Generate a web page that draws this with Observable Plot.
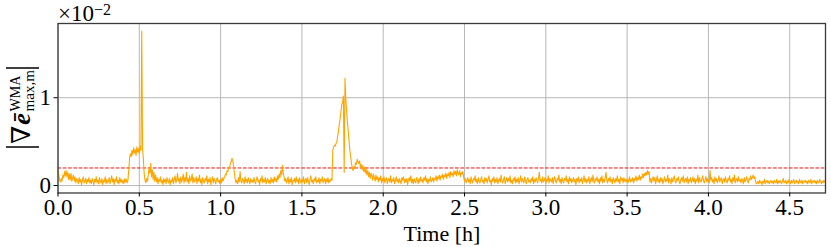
<!DOCTYPE html>
<html><head><meta charset="utf-8">
<script src="https://cdn.jsdelivr.net/npm/d3@7"></script>
<script src="https://cdn.jsdelivr.net/npm/@observablehq/plot@0.6"></script>
<style>
body{margin:0;background:#fff}
#chart svg{display:block}
#chart svg text, #chart svg tspan{font-family:"Liberation Serif","DejaVu Serif",serif !important;}
</style>
</head><body><div id="chart"></div>
<script>
// sample step in hours
const dt = 0.005;
// |grad e_WMA| in units of 1e-2, one row per 0.1 h (20 samples)
const gradWMA = [
  0.17,0.12,0.06,0.04,0.08,0.05,0.12,0.09,0.16,0.11,0.17,0.10,0.15,0.07,0.13,0.06,0.14,0.05,0.09,0.12,
  0.05,0.10,0.03,0.08,0.06,0.02,0.09,0.04,0.07,0.01,0.06,0.10,0.03,0.05,0.08,0.02,0.07,0.04,0.09,0.03,
  0.06,0.02,0.08,0.05,0.01,0.07,0.04,0.10,0.03,0.06,0.02,0.09,0.05,0.03,0.08,0.01,0.06,0.04,0.10,0.02,
  0.07,0.03,0.05,0.09,0.02,0.06,0.11,0.04,0.08,0.01,0.07,0.05,0.10,0.03,0.06,0.02,0.09,0.04,0.07,0.03,
  0.06,0.02,0.08,0.04,0.07,0.03,0.06,0.18,0.30,0.36,0.33,0.40,0.35,0.43,0.37,0.41,0.34,0.44,0.38,0.42,
  0.36,0.45,0.40,1.76,0.42,0.30,0.14,0.06,0.03,0.08,0.05,0.12,0.20,0.14,0.25,0.10,0.18,0.07,0.15,0.05,
  0.12,0.04,0.09,0.02,0.07,0.05,0.10,0.03,0.06,0.01,0.08,0.04,0.07,0.02,0.09,0.05,0.03,0.08,0.01,0.06,
  0.04,0.09,0.02,0.07,0.11,0.03,0.06,0.14,0.05,0.08,0.02,0.10,0.04,0.07,0.13,0.03,0.09,0.05,0.15,0.04,
  0.08,0.02,0.11,0.05,0.07,0.13,0.03,0.09,0.04,0.06,0.10,0.02,0.08,0.05,0.12,0.03,0.07,0.01,0.09,0.05,
  0.03,0.08,0.05,0.11,0.02,0.07,0.04,0.09,0.01,0.06,0.10,0.03,0.08,0.05,0.02,0.07,0.09,0.04,0.06,0.02,
  0.07,0.03,0.09,0.05,0.08,0.10,0.13,0.12,0.17,0.16,0.21,0.20,0.25,0.27,0.31,0.28,0.22,0.14,0.07,0.03,
  0.06,0.02,0.09,0.04,0.16,0.05,0.03,0.08,0.06,0.02,0.10,0.04,0.07,0.03,0.09,0.05,0.02,0.08,0.04,0.06,
  0.03,0.09,0.05,0.02,0.07,0.10,0.04,0.06,0.01,0.08,0.05,0.11,0.03,0.07,0.04,0.09,0.02,0.06,0.08,0.03,
  0.06,0.02,0.09,0.04,0.07,0.03,0.10,0.05,0.08,0.04,0.11,0.07,0.13,0.09,0.17,0.12,0.23,0.15,0.10,0.05,
  0.08,0.03,0.06,0.10,0.02,0.07,0.04,0.09,0.01,0.06,0.05,0.08,0.03,0.10,0.04,0.07,0.02,0.09,0.05,0.03,
  0.07,0.04,0.10,0.02,0.06,0.08,0.03,0.09,0.05,0.01,0.07,0.11,0.04,0.06,0.02,0.08,0.05,0.10,0.03,0.06,
  0.04,0.09,0.02,0.07,0.05,0.10,0.03,0.06,0.08,0.02,0.07,0.04,0.09,0.03,0.06,0.05,0.08,0.06,0.40,0.44,
  0.46,0.45,0.48,0.50,0.56,0.62,0.70,0.76,0.84,0.92,0.95,1.02,0.15,1.22,0.98,0.85,0.72,0.62,0.50,0.40,
  0.33,0.25,0.20,0.17,0.22,0.19,0.26,0.24,0.30,0.27,0.25,0.28,0.21,0.24,0.18,0.23,0.16,0.21,0.14,0.19,
  0.12,0.17,0.10,0.15,0.08,0.14,0.11,0.06,0.13,0.09,0.05,0.12,0.07,0.10,0.04,0.09,0.06,0.11,0.03,0.08,
  0.05,0.10,0.03,0.07,0.09,0.02,0.06,0.08,0.04,0.11,0.03,0.07,0.05,0.09,0.02,0.06,0.10,0.04,0.07,0.03,
  0.08,0.05,0.02,0.09,0.06,0.10,0.03,0.07,0.04,0.08,0.01,0.06,0.09,0.05,0.11,0.03,0.07,0.02,0.08,0.05,
  0.03,0.09,0.06,0.02,0.08,0.04,0.10,0.05,0.07,0.03,0.09,0.06,0.11,0.04,0.08,0.02,0.07,0.05,0.10,0.04,
  0.06,0.09,0.04,0.08,0.07,0.11,0.05,0.10,0.08,0.12,0.06,0.11,0.09,0.13,0.07,0.12,0.10,0.14,0.08,0.13,
  0.11,0.15,0.09,0.16,0.12,0.14,0.10,0.17,0.13,0.16,0.11,0.18,0.14,0.12,0.17,0.10,0.15,0.13,0.16,0.09,
  0.05,0.08,0.03,0.06,0.09,0.04,0.07,0.02,0.10,0.05,0.03,0.08,0.06,0.11,0.04,0.07,0.02,0.09,0.05,0.03,
  0.07,0.10,0.04,0.06,0.02,0.09,0.05,0.08,0.03,0.07,0.11,0.04,0.06,0.01,0.08,0.05,0.10,0.03,0.07,0.04,
  0.09,0.02,0.06,0.08,0.04,0.12,0.05,0.03,0.07,0.10,0.02,0.06,0.09,0.04,0.08,0.05,0.11,0.03,0.06,0.02,
  0.08,0.05,0.10,0.03,0.07,0.04,0.09,0.02,0.06,0.11,0.04,0.08,0.05,0.03,0.10,0.06,0.02,0.07,0.09,0.04,
  0.06,0.03,0.08,0.05,0.10,0.02,0.07,0.04,0.09,0.06,0.03,0.08,0.15,0.05,0.07,0.03,0.10,0.04,0.06,0.09,
  0.02,0.07,0.05,0.11,0.03,0.08,0.06,0.04,0.09,0.02,0.07,0.10,0.05,0.03,0.08,0.06,0.12,0.04,0.07,0.02,
  0.09,0.05,0.03,0.08,0.06,0.11,0.04,0.07,0.02,0.10,0.05,0.08,0.03,0.06,0.09,0.04,0.07,0.01,0.08,0.05,
  0.10,0.03,0.07,0.05,0.09,0.02,0.06,0.11,0.04,0.08,0.03,0.07,0.05,0.10,0.02,0.06,0.09,0.04,0.12,0.05,
  0.03,0.08,0.06,0.10,0.04,0.07,0.02,0.09,0.05,0.11,0.03,0.07,0.04,0.09,0.15,0.06,0.03,0.08,0.05,0.10,
  0.04,0.07,0.02,0.09,0.06,0.03,0.08,0.05,0.11,0.04,0.07,0.02,0.10,0.06,0.08,0.03,0.09,0.05,0.07,0.04,
  0.08,0.03,0.06,0.10,0.04,0.07,0.05,0.09,0.03,0.08,0.06,0.11,0.05,0.09,0.07,0.12,0.06,0.10,0.08,0.13,
  0.09,0.14,0.11,0.15,0.12,0.17,0.13,0.16,0.04,0.08,0.03,0.07,0.10,0.05,0.09,0.02,0.06,0.11,0.04,0.07,
  0.03,0.09,0.05,0.08,0.02,0.06,0.10,0.04,0.07,0.05,0.12,0.03,0.08,0.06,0.02,0.09,0.04,0.07,0.11,0.05,
  0.03,0.08,0.06,0.10,0.04,0.02,0.07,0.09,0.05,0.11,0.03,0.06,0.08,0.04,0.10,0.02,0.07,0.05,0.09,0.03,
  0.06,0.10,0.04,0.08,0.02,0.07,0.05,0.12,0.03,0.09,0.06,0.04,0.08,0.11,0.05,0.03,0.07,0.10,0.04,0.08,
  0.05,0.03,0.17,0.06,0.09,0.04,0.07,0.02,0.10,0.05,0.08,0.03,0.06,0.11,0.04,0.07,0.09,0.02,0.06,0.08,
  0.04,0.10,0.05,0.03,0.08,0.06,0.11,0.04,0.07,0.02,0.09,0.05,0.12,0.03,0.06,0.08,0.04,0.10,0.05,0.07,
  0.03,0.08,0.06,0.02,0.09,0.04,0.07,0.10,0.05,0.03,0.08,0.06,0.11,0.07,0.09,0.12,0.08,0.10,0.04,0.02,
  0.03,0.05,0.02,0.06,0.03,0.04,0.01,0.05,0.03,0.07,0.02,0.04,0.06,0.03,0.05,0.02,0.04,0.06,0.03,0.05,
  0.02,0.06,0.04,0.03,0.07,0.02,0.05,0.03,0.06,0.04,0.02,0.05,0.08,0.03,0.04,0.06,0.02,0.05,0.03,0.07,
  0.04,0.02,0.06,0.03,0.05,0.07,0.02,0.04,0.06,0.03,0.05,0.02,0.07,0.04,0.03,0.06,0.02,0.05,0.04,0.06,
  0.03,0.05,0.02,0.06,0.04,0.03,0.07,0.02,0.05,0.04,0.06,0.03,0.05,0.02,0.06,0.04,0.03,0.07,0.05,0.02,
  0.05,0.03,0.06,0.04
];
const threshold = [0.2];
const xTicks = [0, 0.5, 1, 1.5, 2, 2.5, 3, 3.5, 4, 4.5];
const yTicks = [0, 1];
const xLabel = "Time [h]";
const timeDomain = [0, 4.72];
const valueDomain = [-0.085, 1.845];

const data = gradWMA.map((v, i) => ({t: i * dt, v}));
const serif = "Liberation Serif, DejaVu Serif, serif";

const svgNode = Plot.plot({
  width: 831, height: 247,
  marginLeft: 57.5, marginRight: 6, marginTop: 23, marginBottom: 54.5,
  style: {fontFamily: serif, background: "#fff", color: "#000", overflow: "visible"},
  x: {domain: timeDomain},
  y: {domain: valueDomain},
  marks: [
    Plot.gridX(xTicks, {stroke: "#b0b0b0", strokeOpacity: 1, strokeWidth: 0.9}),
    Plot.gridY(yTicks, {stroke: "#b0b0b0", strokeOpacity: 1, strokeWidth: 0.9}),
    Plot.ruleY(threshold, {stroke: "#ee1111", strokeWidth: 1, strokeDasharray: "3.7,1.6"}),
    Plot.line(data, {x: "t", y: "v", stroke: "#ffa500", strokeWidth: 1.1}),
    Plot.frame({stroke: "#3a3a3a", strokeWidth: 1.3}),
    Plot.axisX(xTicks, {tickFormat: d3.format(".1f"), tickSize: 4, tickPadding: 2, fontSize: 23, label: null}),
    Plot.axisY(yTicks, {tickFormat: d => String(d), tickSize: 4, tickPadding: 3, fontSize: 23, label: null})
  ]
});
document.getElementById("chart").appendChild(svgNode);

const svg = d3.select(svgNode);
// x axis label
svg.append("text").attr("x", 442).attr("y", 241).attr("text-anchor", "middle")
  .attr("font-size", 22).attr("fill", "#000").text(xLabel);
// scale multiplier
const mult = svg.append("text").attr("x", 58).attr("y", 21).attr("text-anchor", "start").attr("fill", "#000");
mult.append("tspan").attr("font-size", 23).text("×10");
mult.append("tspan").attr("font-size", 16).attr("dy", -6).text("−2");

// y axis label (rotated): |∇ ē^WMA_max,m|
const g = svg.append("g").attr("transform", "translate(0,147) rotate(-90)").attr("text-anchor", "start");
const inner = g.append("g");
let cx = 3;
const tNabla = inner.append("text").attr("x", cx).attr("y", 30).attr("font-size", 26).attr("fill", "#000").text("∇");
cx += tNabla.node().getComputedTextLength() + 1;
const tE = inner.append("text").attr("x", cx).attr("y", 30).attr("font-size", 26)
  .attr("font-style", "italic").attr("font-weight", "bold").attr("fill", "#000").text("ē");
cx += tE.node().getComputedTextLength() + 1.5;
const tSup = inner.append("text").attr("x", cx).attr("y", 20).attr("font-size", 14).attr("fill", "#000").text("WMA");
const tSub = inner.append("text").attr("x", cx).attr("y", 34).attr("font-size", 15).attr("fill", "#000").text("max,m");
cx += Math.max(tSup.node().getComputedTextLength(), tSub.node().getComputedTextLength()) + 2;
inner.append("line").attr("x1", 0).attr("x2", 0).attr("y1", 6).attr("y2", 39).attr("stroke", "#000").attr("stroke-width", 1.3);
inner.append("line").attr("x1", cx).attr("x2", cx).attr("y1", 6).attr("y2", 39).attr("stroke", "#000").attr("stroke-width", 1.3);
inner.attr("transform", `scale(${79 / cx},1)`);
</script></body></html>
